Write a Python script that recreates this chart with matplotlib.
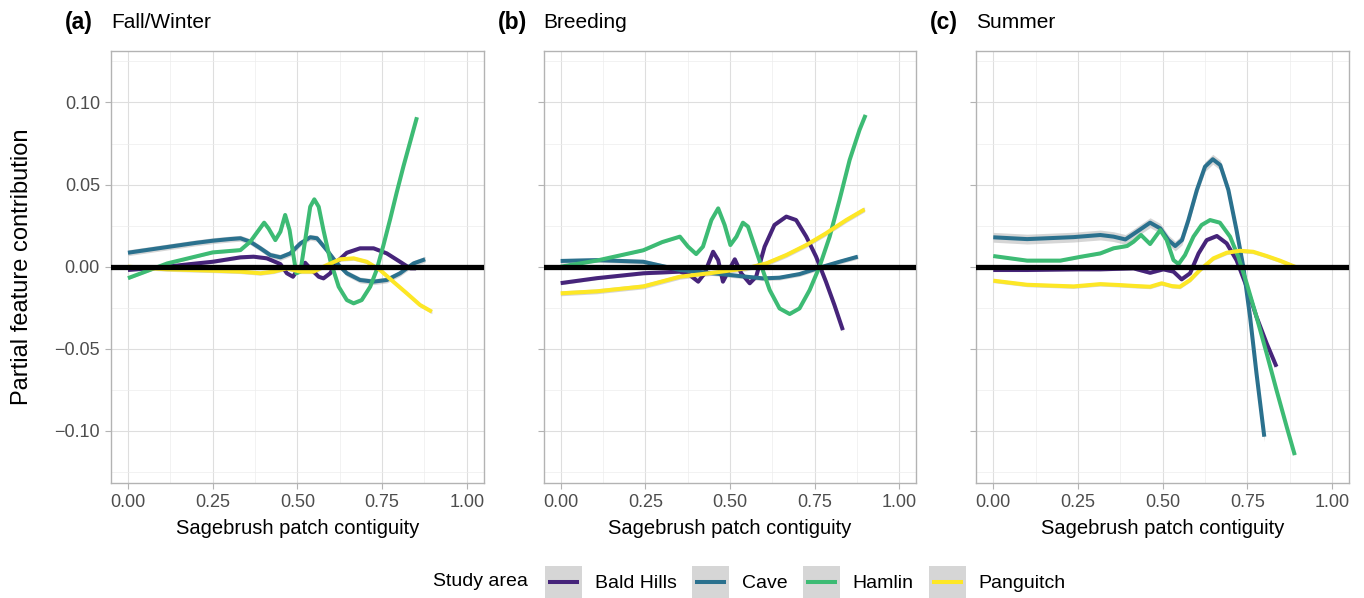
import numpy as np
import matplotlib.pyplot as plt
from matplotlib.lines import Line2D
from matplotlib.patches import Rectangle
from matplotlib.legend_handler import HandlerBase

plt.rcParams['font.family'] = ['Liberation Sans', 'DejaVu Sans']

# Áreas de estudo e cores (viridis)
areas = ['Bald Hills', 'Cave', 'Hamlin', 'Panguitch']
cores = ['#46247A', '#2B718E', '#3DBB74', '#FDE725']

# ---- Fall/Winter ----
fw_bald_x = [0, 0.06, 0.116, 0.18, 0.25, 0.332, 0.371, 0.41, 0.45, 0.469, 0.487, 0.504, 0.523,
             0.538, 0.563, 0.577, 0.597, 0.617, 0.646, 0.685, 0.725, 0.764, 0.803, 0.833, 0.85]
fw_bald_y = [-0.002, -0.001, 0.0, 0.0015, 0.003, 0.0057, 0.0061, 0.0051, 0.0016, -0.004, -0.0061,
             -0.001, 0.0024, -0.001, -0.0061, -0.0071, -0.004, 0.003, 0.0085, 0.0112, 0.0112, 0.0081,
             0.003, -0.001, -0.001]
fw_cave_x = [0, 0.1, 0.2, 0.25, 0.3, 0.332, 0.361, 0.391, 0.42, 0.45, 0.479, 0.509, 0.538, 0.558,
             0.587, 0.617, 0.646, 0.685, 0.725, 0.764, 0.803, 0.843, 0.877]
fw_cave_y = [0.0085, 0.0115, 0.0145, 0.0158, 0.0168, 0.0173, 0.0152, 0.0112, 0.0071, 0.0057, 0.0081,
             0.0142, 0.0179, 0.0173, 0.0101, 0.002, -0.004, -0.0081, -0.0091, -0.0081, -0.004, 0.002,
             0.0045]
fw_hamlin_x = [0, 0.116, 0.25, 0.332, 0.361, 0.402, 0.415, 0.435, 0.45, 0.464, 0.477, 0.489, 0.497,
               0.509, 0.523, 0.538, 0.55, 0.563, 0.577, 0.597, 0.622, 0.646, 0.666, 0.69, 0.715,
               0.734, 0.754, 0.774, 0.793, 0.813, 0.833, 0.853]
fw_hamlin_y = [-0.007, 0.002, 0.0087, 0.0101, 0.0152, 0.0268, 0.0233, 0.0162, 0.0213, 0.0315, 0.0223,
               0.0061, -0.004, -0.003, 0.016, 0.0365, 0.041, 0.0365, 0.0223, 0.004, -0.0122, -0.0203,
               -0.0223, -0.0203, -0.0122, -0.002, 0.013, 0.029, 0.045, 0.061, 0.076, 0.091]
fw_pang_x = [0, 0.116, 0.25, 0.332, 0.391, 0.43, 0.469, 0.509, 0.548, 0.587, 0.626, 0.666, 0.705,
             0.744, 0.783, 0.823, 0.862, 0.897]
fw_pang_y = [0.0, -0.0016, -0.0024, -0.003, -0.004, -0.003, -0.001, -0.003, -0.003, 0.001, 0.0045,
             0.0051, 0.003, -0.002, -0.0091, -0.0162, -0.0233, -0.0274]
fw_band = [0.001, 0.0018, 0.0008, 0.0012]

# ---- Breeding ----
br_bald_x = [0, 0.106, 0.244, 0.352, 0.381, 0.406, 0.425, 0.45, 0.465, 0.479, 0.497, 0.514, 0.533,
             0.558, 0.577, 0.602, 0.631, 0.666, 0.695, 0.725, 0.754, 0.783, 0.808, 0.833]
br_bald_y = [-0.010, -0.007, -0.004, -0.003, -0.0051, -0.0091, -0.004, 0.0091, 0.004, -0.0091, -0.002,
             0.0045, -0.004, -0.0101, -0.0061, 0.0122, 0.0254, 0.0305, 0.0284, 0.0183, 0.0061,
             -0.0091, -0.0233, -0.0386]
br_cave_x = [0, 0.106, 0.244, 0.352, 0.45, 0.548, 0.597, 0.646, 0.705, 0.764, 0.823, 0.877]
br_cave_y = [0.0035, 0.004, 0.003, -0.002, -0.004, -0.0061, -0.0071, -0.0067, -0.0045, -0.0006,
             0.003, 0.0061]
br_hamlin_x = [0, 0.106, 0.244, 0.30, 0.352, 0.376, 0.40, 0.42, 0.445, 0.465, 0.484, 0.501, 0.519,
               0.538, 0.553, 0.573, 0.593, 0.617, 0.646, 0.676, 0.705, 0.735, 0.764, 0.794, 0.823,
               0.853, 0.882, 0.900]
br_hamlin_y = [0.0, 0.0037, 0.010, 0.015, 0.0183, 0.0122, 0.0077, 0.0122, 0.0284, 0.0355, 0.0254,
               0.0132, 0.0183, 0.0268, 0.0244, 0.0122, 0.0, -0.0142, -0.0254, -0.0288, -0.0254,
               -0.0142, 0.0, 0.0183, 0.0406, 0.065, 0.0832, 0.0924]
br_pang_x = [0, 0.106, 0.244, 0.352, 0.45, 0.548, 0.607, 0.666, 0.725, 0.783, 0.843, 0.897]
br_pang_y = [-0.0162, -0.015, -0.012, -0.0061, -0.0037, -0.001, 0.002, 0.0071, 0.0132, 0.0203, 0.0284,
             0.0349]
br_band = [0.001, 0.0014, 0.0007, 0.0015]

# ---- Summer ----
su_bald_x = [0, 0.1, 0.25, 0.316, 0.414, 0.463, 0.502, 0.532, 0.556, 0.581, 0.606, 0.63, 0.66,
             0.689, 0.718, 0.748, 0.777, 0.807, 0.836]
su_bald_y = [-0.002, -0.002, -0.0016, -0.0016, -0.001, -0.0037, -0.0016, -0.003, -0.0077, -0.004,
             0.0081, 0.0162, 0.0187, 0.0142, 0.004, -0.0122, -0.0305, -0.0467, -0.0609]
su_cave_x = [0, 0.1, 0.237, 0.316, 0.355, 0.39, 0.424, 0.463, 0.493, 0.517, 0.537, 0.557, 0.576,
             0.601, 0.625, 0.648, 0.67, 0.694, 0.718, 0.738, 0.758, 0.777, 0.8]
su_cave_y = [0.0179, 0.0168, 0.018, 0.0193, 0.0183, 0.0166, 0.0213, 0.0268, 0.0233, 0.0162, 0.0126,
             0.0162, 0.0284, 0.0467, 0.0609, 0.0654, 0.0619, 0.0467, 0.0223, 0.0, -0.0305, -0.065,
             -0.1035]
su_hamlin_x = [0, 0.1, 0.198, 0.257, 0.316, 0.355, 0.395, 0.414, 0.436, 0.463, 0.493, 0.512, 0.532,
               0.547, 0.566, 0.591, 0.615, 0.64, 0.669, 0.699, 0.723, 0.748, 0.777, 0.807, 0.836,
               0.866, 0.89]
su_hamlin_y = [0.0065, 0.0037, 0.0037, 0.006, 0.0081, 0.0112, 0.0126, 0.0152, 0.0193, 0.0138, 0.0223,
               0.0162, 0.004, 0.0016, 0.0071, 0.0183, 0.0254, 0.0284, 0.0268, 0.0183, 0.0061, -0.0101,
               -0.0305, -0.0528, -0.0751, -0.0974, -0.1147]
su_pang_x = [0, 0.1, 0.237, 0.316, 0.375, 0.424, 0.463, 0.497, 0.527, 0.551, 0.581, 0.61, 0.65,
             0.689, 0.728, 0.767, 0.807, 0.846, 0.895]
su_pang_y = [-0.0085, -0.011, -0.012, -0.0106, -0.0112, -0.0118, -0.0122, -0.0101, -0.0118, -0.0122,
             -0.0081, -0.002, 0.0051, 0.0085, 0.0097, 0.0091, 0.0065, 0.0037, -0.0004]
su_band = [0.001, 0.003, 0.0008, 0.0012]

paineis = [
    ('(a)', 'Fall/Winter', [(fw_bald_x, fw_bald_y), (fw_cave_x, fw_cave_y),
                            (fw_hamlin_x, fw_hamlin_y), (fw_pang_x, fw_pang_y)], fw_band),
    ('(b)', 'Breeding', [(br_bald_x, br_bald_y), (br_cave_x, br_cave_y),
                         (br_hamlin_x, br_hamlin_y), (br_pang_x, br_pang_y)], br_band),
    ('(c)', 'Summer', [(su_bald_x, su_bald_y), (su_cave_x, su_cave_y),
                       (su_hamlin_x, su_hamlin_y), (su_pang_x, su_pang_y)], su_band),
]


# Chave da legenda: fundo cinza (banda de confiança) com a linha no centro
class HandlerChave(HandlerBase):
    def create_artists(self, legend, orig_handle, xdescent, ydescent, width, height, fontsize, trans):
        fundo = Rectangle((-xdescent, -ydescent), width, height, facecolor='#999999', alpha=0.4,
                          lw=0, transform=trans)
        yc = -ydescent + height / 2
        linha = Line2D([-xdescent + 0.08 * width, -xdescent + 0.92 * width], [yc, yc],
                       color=orig_handle.get_color(), lw=2.9, solid_capstyle='butt', transform=trans)
        return [fundo, linha]


W, H = 1364, 598
fig = plt.figure(figsize=(W / 100, H / 100), dpi=100)

esquerdas = [111, 543.7, 976.3]
largura = 372.7
topo, base = 50.7, 482.7

for i, (tag, titulo, series, bandas) in enumerate(paineis):
    x0 = esquerdas[i]
    ax = fig.add_axes([x0 / W, 1 - base / H, largura / W, (base - topo) / H])

    for (xs, ys), cor, b in zip(series, cores, bandas):
        xs = np.array(xs)
        ys = np.array(ys)
        ax.fill_between(xs, ys - b, ys + b, color='#999999', alpha=0.4, lw=0, zorder=2)
        ax.plot(xs, ys, color=cor, lw=2.9, solid_capstyle='butt', solid_joinstyle='round', zorder=3)

    ax.axhline(0, color='black', lw=3.8, zorder=5)

    ax.set_xlim(-0.05, 1.05)
    ax.set_ylim(-0.1315, 0.1315)
    ax.set_xticks([0, 0.25, 0.5, 0.75, 1.0])
    ax.set_xticklabels(['0.00', '0.25', '0.50', '0.75', '1.00'])
    ax.set_xticks([0.125, 0.375, 0.625, 0.875], minor=True)
    ax.set_yticks([-0.1, -0.05, 0, 0.05, 0.1])
    ax.set_yticklabels(['\u22120.10', '\u22120.05', '0.00', '0.05', '0.10'])
    ax.set_yticks([-0.125, -0.075, -0.025, 0.025, 0.075, 0.125], minor=True)

    ax.grid(which='major', color='#DEDEDE', lw=0.8, zorder=0)
    ax.grid(which='minor', color='#EDEDED', lw=0.5, zorder=0)
    ax.set_axisbelow(True)
    for s in ax.spines.values():
        s.set_color('#B3B3B3')
        s.set_linewidth(1.0)
    ax.tick_params(which='major', length=4, width=0.8, color='#B3B3B3',
                   labelcolor='#4D4D4D', labelsize=13, pad=4)
    ax.tick_params(which='minor', length=0)
    if i > 0:
        ax.tick_params(axis='y', labelleft=False)

    ax.set_xlabel('Sagebrush patch contiguity', fontsize=14.5, labelpad=6)

    # Título e etiqueta do painel
    fig.text(x0 / W, 1 - 23 / H, titulo, fontsize=15, va='center', ha='left')
    fig.text((x0 - 46) / W, 1 - 23 / H, tag, fontsize=16.5, fontweight='bold', va='center', ha='left')

fig.text(22 / W, 1 - (topo + base) / 2 / H, 'Partial feature contribution', fontsize=17,
         rotation=90, va='center', ha='center')

# Legenda
handles = [Line2D([], [], color=c) for c in cores]
fig.text(433 / W, 1 - 582 / H, 'Study area', fontsize=14, va='center', ha='left')
fig.legend(handles, areas, loc='center left', bbox_to_anchor=(545 / W, 1 - 582 / H), ncol=4,
           frameon=False, fontsize=14, handlelength=1.9, handleheight=2.1, handletextpad=0.65,
           columnspacing=0.8, borderpad=0, borderaxespad=0,
           handler_map={Line2D: HandlerChave()})

plt.savefig('out.png', dpi=100)
